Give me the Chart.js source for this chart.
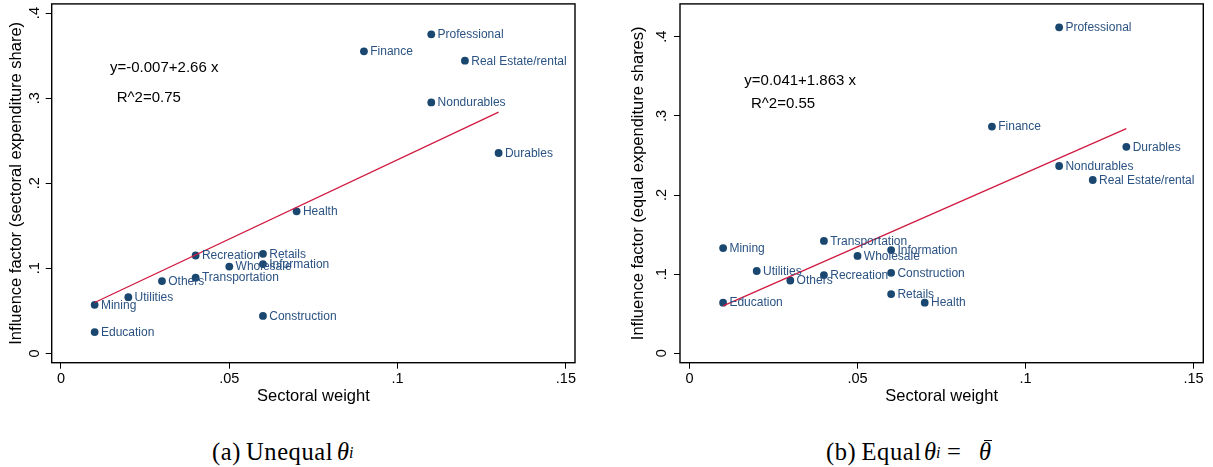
<!DOCTYPE html>
<html>
<head>
<meta charset="utf-8">
<script src="https://cdn.jsdelivr.net/npm/chart.js@4.4.0/dist/chart.umd.min.js"></script>
<style>
  html, body { margin:0; padding:0; background:#fff; }
  body { width:1213px; height:467px; position:relative; overflow:hidden; }
  canvas { position:absolute; top:0; }
  .cp { position:absolute; top:439px; line-height:25px; font-family:"Liberation Serif","DejaVu Serif",serif; font-size:24.5px; color:#000; white-space:nowrap; letter-spacing:0.6px; }
  .it { font-style:italic; letter-spacing:0; }
  .sb { position:absolute; top:445px; line-height:16px; font-family:"Liberation Serif",serif; font-size:16px; font-style:italic; color:#000; }
  .bar { position:absolute; top:439.5px; height:1.3px; background:#000; }
</style>
</head>
<body>
<canvas id="cA" width="606" height="420" style="left:0px"></canvas>
<canvas id="cB" width="607" height="420" style="left:606px"></canvas>
<span class="cp" style="left:212px">(a)</span>
<span class="cp" style="left:246px">Unequal</span>
<span class="cp it" style="left:337px">θ</span>
<span class="sb" style="left:349px">i</span>
<span class="cp" style="left:826px">(b)</span>
<span class="cp" style="left:861.5px">Equal</span>
<span class="cp it" style="left:924px">θ</span>
<span class="sb" style="left:936px">i</span>
<span class="cp" style="left:947px">=</span>
<span class="cp it" style="left:979px">θ</span>
<span class="bar" style="left:984px; width:8px"></span>
<script>
// ---- data ----
const categories = ['Professional','Finance','Real Estate/rental','Nondurables','Durables','Health','Recreation','Retails','Information','Wholesale','Transportation','Others','Utilities','Mining','Construction','Education'];
const sectoralWeight = [0.11,0.09,0.12,0.11,0.13,0.07,0.04,0.06,0.06,0.05,0.04,0.03,0.02,0.01,0.06,0.01];
const influenceUnequal = [0.375,0.355,0.344,0.295,0.2355,0.167,0.115,0.117,0.105,0.102,0.089,0.085,0.066,0.057,0.044,0.025];
const influenceEqual = [0.412,0.2865,0.219,0.2367,0.261,0.064,0.0988,0.0748,0.1304,0.123,0.142,0.092,0.104,0.133,0.1017,0.064];
const fitX = [0.01, 0.13];
const fitUnequal = [0.0598, 0.2836];
const fitEqual = [0.0600, 0.2840];
const xTickValues = [0, 0.05, 0.1, 0.15];
const yTickValues = [0, 0.1, 0.2, 0.3, 0.4];
const xTitle = 'Sectoral weight';
const yTitleA = 'Influence factor (sectoral expenditure share)';
const yTitleB = 'Influence factor (equal expenditure shares)';
const eqA = ['y=-0.007+2.66 x', 'R^2=0.75'];
const eqB = ['y=0.041+1.863 x', 'R^2=0.55'];

const SANS = '"Liberation Sans", Arial, sans-serif';
const NAVY = '#1a476f';
const LABEL = '#2a5282';
const RED = '#d01a40';

function fmt(v) {
  if (Math.abs(v) < 1e-9) return '0';
  return String(+v.toFixed(4)).replace(/^0\./, '.');
}

function makeChart(id, yVals, fit, opt) {
  const pts = sectoralWeight.map((x, i) => ({x: x, y: yVals[i]}));
  const line = fitX.map((x, i) => ({x: x, y: fit[i]}));
  const overlay = {
    id: 'overlay_' + id,
    afterDatasetsDraw(chart) {
      const ctx = chart.ctx;
      const ca = chart.chartArea;
      const ys = chart.scales.y;
      ctx.save();
      // frame
      ctx.strokeStyle = '#000';
      ctx.lineWidth = 1.4;
      ctx.strokeRect(ca.left, ca.top, ca.right - ca.left, ca.bottom - ca.top);
      // point labels
      ctx.fillStyle = LABEL;
      ctx.font = '12px ' + SANS;
      ctx.textAlign = 'left';
      ctx.textBaseline = 'middle';
      const meta = chart.getDatasetMeta(1);
      meta.data.forEach((el, i) => {
        ctx.fillText(categories[i], el.x + 6.3, el.y + 0.5);
      });
      // y tick labels (rotated)
      ctx.fillStyle = '#000';
      ctx.font = '14.5px ' + SANS;
      ctx.textAlign = 'center';
      ctx.textBaseline = 'middle';
      yTickValues.forEach(v => {
        const py = ys.getPixelForValue(v);
        ctx.save();
        ctx.translate(opt.yTickX, py);
        ctx.rotate(-Math.PI / 2);
        ctx.fillText(fmt(v), 0, 0);
        ctx.restore();
      });
      // y title
      ctx.font = '16.5px ' + SANS;
      ctx.save();
      ctx.translate(opt.yTitleX, (ca.top + ca.bottom) / 2);
      ctx.rotate(-Math.PI / 2);
      ctx.fillText(opt.yTitle, 0, 0);
      ctx.restore();
      // x title
      ctx.fillText(xTitle, (ca.left + ca.right) / 2, 396);
      // equation annotations
      ctx.font = '15px ' + SANS;
      ctx.textAlign = 'left';
      ctx.fillText(opt.eq[0], opt.eqPos[0][0], opt.eqPos[0][1]);
      ctx.fillText(opt.eq[1], opt.eqPos[1][0], opt.eqPos[1][1]);
      ctx.restore();
    }
  };
  return new Chart(document.getElementById(id), {
    type: 'scatter',
    data: {
      datasets: [
        { type: 'line', data: line, borderColor: RED, borderWidth: 1.3, pointRadius: 0, fill: false, tension: 0 },
        { data: pts, backgroundColor: NAVY, borderColor: NAVY, borderWidth: 0, pointRadius: 3.9, pointHoverRadius: 3.9 }
      ]
    },
    options: {
      responsive: false,
      animation: false,
      devicePixelRatio: 1,
      events: [],
      layout: { padding: { top: 3.3, left: 0, right: opt.padRight, bottom: 0 } },
      plugins: { legend: { display: false }, tooltip: { enabled: false } },
      scales: {
        x: {
          type: 'linear', min: opt.xMin, max: opt.xMax,
          afterBuildTicks: s => { s.ticks = xTickValues.map(v => ({ value: v })); },
          afterFit: s => { s.height = 57.3; },
          ticks: { callback: v => fmt(v), color: '#000', font: { family: SANS, size: 14.5 }, padding: 2, maxRotation: 0, autoSkip: false },
          grid: { drawOnChartArea: false, drawTicks: true, tickLength: 6, color: '#000', lineWidth: 1 },
          border: { display: false }
        },
        y: {
          type: 'linear', min: opt.yMin, max: opt.yMax,
          afterBuildTicks: s => { s.ticks = yTickValues.map(v => ({ value: v })); },
          afterFit: s => { s.width = opt.yWidth; },
          ticks: { display: false },
          grid: { drawOnChartArea: false, drawTicks: true, tickLength: 6, color: '#000', lineWidth: 1 },
          border: { display: false }
        }
      }
    },
    plugins: [overlay]
  });
}

makeChart('cA', influenceUnequal, fitUnequal, {
  xMin: -0.00276, xMax: 0.1527, yMin: -0.011, yMax: 0.4108,
  yWidth: 51.7, padRight: 31,
  yTickX: 34.5, yTitleX: 16, yTitle: yTitleA,
  eq: eqA, eqPos: [[110, 67.5], [116.7, 97.5]]
});
makeChart('cB', influenceEqual, fitEqual, {
  xMin: -0.00283, xMax: 0.1529, yMin: -0.0119, yMax: 0.4416,
  yWidth: 74, padRight: 9.7,
  yTickX: 56, yTitleX: 32, yTitle: yTitleB,
  eq: eqB, eqPos: [[744.3 - 606, 80.5], [751 - 606, 103.5]]
});
</script>
</body>
</html>
